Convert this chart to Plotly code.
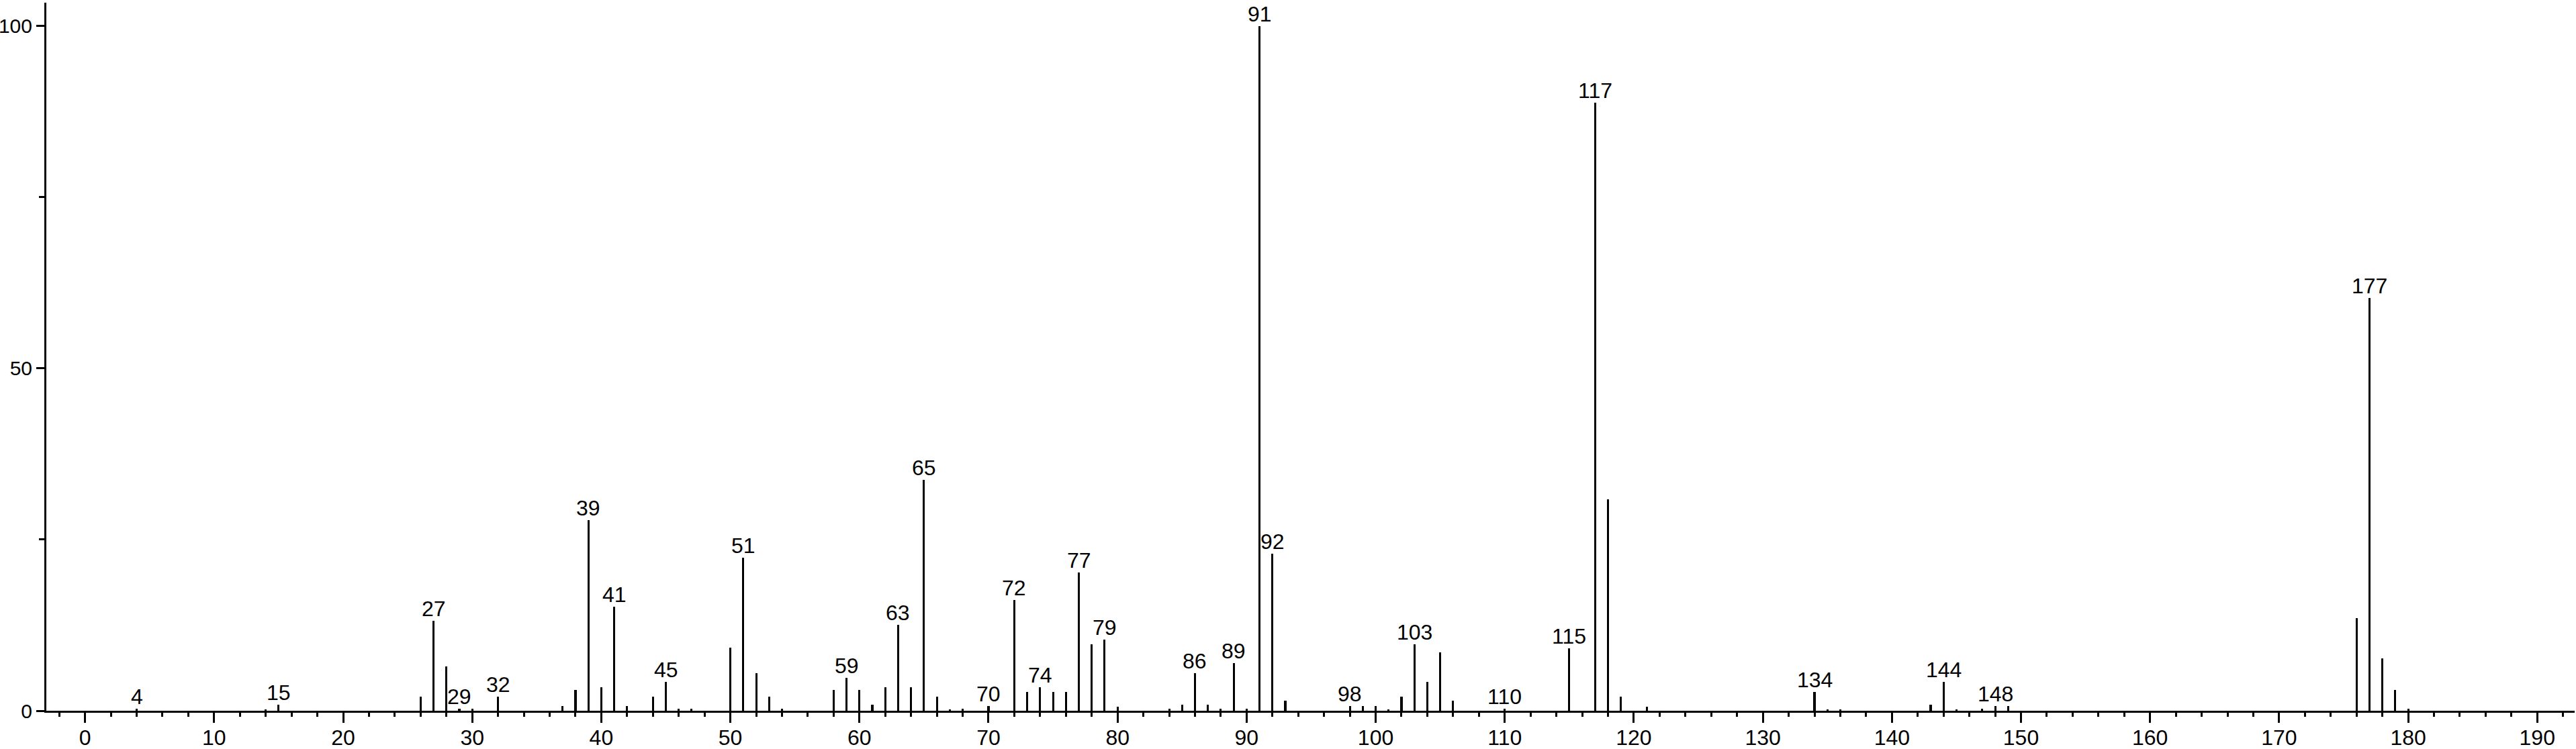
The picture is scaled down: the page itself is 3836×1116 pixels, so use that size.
import plotly.graph_objects as go

# m/z values and relative intensities
mz = [4, 14, 15, 26, 27, 28, 29, 30, 32, 37, 38, 39, 40, 41, 42, 44, 45, 46, 47,
      50, 51, 52, 53, 54, 58, 59, 60, 61, 62, 63, 64, 65, 66, 67, 68, 70, 72, 73,
      74, 75, 76, 77, 78, 79, 80, 84, 85, 86, 87, 88, 89, 90, 91, 92, 93, 98, 99,
      100, 101, 102, 103, 104, 105, 106, 110, 115, 117, 118, 119, 121, 134, 135,
      136, 143, 144, 145, 147, 148, 149, 176, 177, 178, 179, 180]
intensity = [0.3, 0.2, 0.9, 2.1, 13.1, 6.5, 0.3, 0.3, 2.1, 0.65, 3.0, 27.8, 3.4, 15.2, 0.65, 2.1, 4.2, 0.3, 0.3,
             9.2, 22.3, 5.5, 2.1, 0.3, 3.0, 4.8, 3.0, 0.9, 3.4, 12.5, 3.4, 33.7, 2.1, 0.2, 0.3, 0.65, 16.2, 2.7,
             3.4, 2.7, 2.7, 20.2, 9.7, 10.4, 0.6, 0.3, 0.9, 5.5, 0.9, 0.3, 7.0, 0.3, 100.0, 22.9, 1.5, 0.65, 0.65,
             0.65, 0.2, 2.1, 9.7, 4.2, 8.5, 1.5, 0.3, 9.1, 88.8, 30.9, 2.1, 0.6, 2.7, 0.2,
             0.2, 0.9, 4.2, 0.2, 0.3, 0.65, 0.65, 13.5, 60.3, 7.6, 3.0, 0.3]

# peaks that carry a text label
labeled_mz = [4, 15, 27, 29, 32, 39, 41, 45, 51, 59, 63, 65, 70, 72, 74, 77, 79,
              86, 89, 91, 92, 98, 103, 110, 115, 117, 134, 144, 148, 177]

x_ticks = list(range(0, 191, 10))
y_ticks = [0, 50, 100]

lookup = dict(zip(mz, intensity))
FONT = "Liberation Sans, Arial, sans-serif"
FS = 32

fig = go.Figure()
fig.add_trace(go.Bar(
    x=mz, y=intensity, width=0.16,
    marker=dict(color="black", line=dict(width=0)),
    hoverinfo="x+y",
))

annotations = []
for m in labeled_mz:
    annotations.append(dict(
        x=m, y=lookup[m], xref="x", yref="y",
        text=str(m), showarrow=False,
        xanchor="center", yanchor="bottom", yshift=-2,
        font=dict(family=FONT, size=FS, color="black"),
    ))

fig.update_layout(
    width=3836, height=1116,
    margin=dict(l=69, r=2, t=4, b=57, autoexpand=False),
    paper_bgcolor="white", plot_bgcolor="white",
    showlegend=False,
    annotations=annotations,
    font=dict(family=FONT, size=FS, color="black"),
    bargap=0,
)

fig.update_xaxes(
    range=[-3, 192.9], automargin=False,
    tickvals=x_ticks, ticktext=[str(v) for v in x_ticks],
    ticks="outside", ticklen=15, tickwidth=3, tickcolor="black",
    minor=dict(dtick=2, tick0=0, ticks="outside", ticklen=6, tickwidth=3, tickcolor="black"),
    showline=True, linewidth=3, linecolor="black",
    showgrid=False, zeroline=False,
    tickfont=dict(family=FONT, size=FS, color="black"),
    ticklabelstandoff=-5,
)
fig.update_yaxes(
    range=[0, 103.4], automargin=False,
    tickvals=y_ticks, ticktext=[str(v) for v in y_ticks],
    ticks="outside", ticklen=12, tickwidth=2.5, tickcolor="black",
    minor=dict(dtick=25, tick0=0, ticks="outside", ticklen=8, tickwidth=2.5, tickcolor="black"),
    showline=True, linewidth=3, linecolor="black",
    showgrid=False, zeroline=False,
    tickfont=dict(family=FONT, size=30, color="black"),
    ticklabelstandoff=0,
)

fig.write_html(
    "out.html",
    config={"displayModeBar": False},
    post_script="document.body.style.margin='0';document.body.style.overflow='hidden';",
)
